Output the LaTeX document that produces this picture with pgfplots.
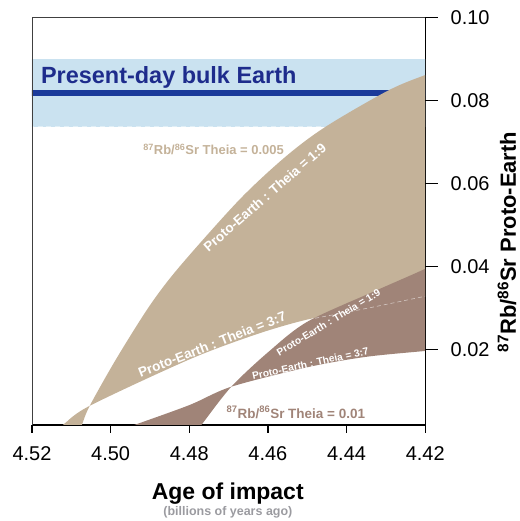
\documentclass[border=0pt]{standalone}
\usepackage{pgfplots}
\pgfplotsset{compat=1.18}
\usepackage{fontspec}
\setmainfont{Liberation Sans}
\definecolor{tanc}{RGB}{196,178,153}
\definecolor{brownc}{RGB}{160,132,120}
\definecolor{bandc}{RGB}{202,226,240}
\definecolor{linec}{RGB}{26,58,154}
\definecolor{navy}{RGB}{30,44,140}
\definecolor{subgray}{RGB}{155,155,160}
\begin{document}
\begin{tikzpicture}
\begin{axis}[
  at={(0,0)}, anchor=south west,
  width=394pt, height=408.4pt, scale only axis,
  x dir=reverse,
  xmin=4.42, xmax=4.52, ymin=0.0018, ymax=0.10,
  axis x line*=bottom, axis y line*=right,
  xtick={4.42,4.44,4.46,4.48,4.50,4.52},
  xticklabels={4.42,4.44,4.46,4.48,4.50,4.52},
  ytick={0.02,0.04,0.06,0.08,0.10},
  yticklabels={0.02,0.04,0.06,0.08,0.10},
  tick align=outside,
  major tick length=8pt,
  axis line style={draw=black, line width=1.3pt},
  every tick/.append style={black, line width=1.3pt},
  ticklabel style={font=\fontsize{20}{22}\selectfont},
  xticklabel style={yshift=-10pt},
  yticklabel style={xshift=14pt},
  xlabel={Age of impact},
  xlabel style={at={(axis description cs:0.498,-0.1819)}, anchor=base, font=\fontsize{23}{25}\selectfont\bfseries},
  ylabel={\textsuperscript{87}Rb/\textsuperscript{86}Sr Proto-Earth},
  ylabel style={at={(axis description cs:1.208,0.4486)}, anchor=center, rotate=0, font=\fontsize{22}{24}\selectfont\bfseries},
]
% present-day bulk Earth band (0.0736 to 0.0900) and line at 0.0818
\addplot[fill=bandc, draw=none] coordinates {(4.415,0.0736) (4.525,0.0736) (4.525,0.0900) (4.415,0.0900)} -- cycle;
\addplot[white, opacity=0.45, line width=0.8pt, dash pattern=on 5pt off 4pt] coordinates {(4.42,0.0900) (4.52,0.0900)};
\addplot[white, opacity=0.45, line width=0.8pt, dash pattern=on 5pt off 4pt] coordinates {(4.4465,0.0736) (4.52,0.0736)};
\addplot[linec, line width=5.6pt] coordinates {(4.525,0.0818) (4.415,0.0818)};
% Theia Rb/Sr = 0.005 (tan): curve 1:9, then curve 3:7 reversed
\addplot[fill=tanc, draw=none, smooth, tension=0.5] coordinates {
 (4.5095,-0.0033) (4.5082,-0.0003) (4.5073,0.0018) (4.5053,0.0064) (4.4985,0.0178) (4.4900,0.0306)
 (4.4824,0.0400) (4.4672,0.0561) (4.4554,0.0665) (4.4452,0.0737) (4.4291,0.0825) (4.4180,0.0868) (4.4000,0.0931)
 (4.4000,0.0365) (4.4180,0.0331) (4.42,0.0328) (4.4342,0.0300) (4.4499,0.0272) (4.4630,0.0236)
 (4.4799,0.0176) (4.5053,0.0064) (4.5121,0.0018) (4.5150,-0.0004) (4.5195,-0.0034)} -- cycle;
% Theia Rb/Sr = 0.01 (brown): curve 1:9, then curve 3:7 reversed
\addplot[fill=brownc, draw=none, smooth, tension=0.5] coordinates {
 (4.4811,-0.0032) (4.4786,-0.0002) (4.4769,0.0018) (4.4693,0.0110) (4.4596,0.0196) (4.4497,0.0268)
 (4.4317,0.0345) (4.4180,0.0403) (4.4000,0.0490)
 (4.4000,0.0216) (4.4180,0.0198) (4.4350,0.0182) (4.4499,0.0157) (4.4693,0.0110) (4.4799,0.0066)
 (4.4939,0.0018) (4.4998,-0.0002) (4.5085,-0.0032)} -- cycle;
% continuation of the tan 3:7 curve
\addplot[white, opacity=0.55, line width=0.6pt, dash pattern=on 4pt off 3pt, smooth] coordinates {(4.4480,0.0275) (4.4342,0.0300) (4.42,0.0328)};
% labels
\node[anchor=base, text=navy, font=\fontsize{23.5}{25}\selectfont\bfseries] at (axis cs:4.4852,0.0841) {Present-day bulk Earth};
\node[text=tanc, font=\fontsize{13}{15}\selectfont\bfseries] at (axis cs:4.4738,0.0681) {\textsuperscript{87}Rb/\textsuperscript{86}Sr Theia = 0.005};
\node[text=brownc, font=\fontsize{13.5}{15}\selectfont\bfseries] at (axis cs:4.4529,0.0048) {\textsuperscript{87}Rb/\textsuperscript{86}Sr Theia = 0.01};
\node[text=white, rotate=41, font=\fontsize{13.5}{15}\selectfont\bfseries] at (axis cs:4.4608,0.0566) {Proto-Earth : Theia = 1:9};
\node[text=white, rotate=21.5, font=\fontsize{13.5}{15}\selectfont\bfseries] at (axis cs:4.4742,0.0212) {Proto-Earth : Theia = 3:7};
\node[text=white, rotate=31, font=\fontsize{10.2}{12}\selectfont\bfseries] at (axis cs:4.4446,0.0265) {Proto-Earth : Theia = 1:9};
\node[text=white, rotate=12.3, font=\fontsize{10.2}{12}\selectfont\bfseries] at (axis cs:4.4492,0.0166) {Proto-Earth : Theia = 3:7};
\end{axis}
\draw[black!75, line width=0.6pt] (current axis.south west) -- (current axis.north west) -- (current axis.north east);
% tick marks (axis box: 394pt x 408.4pt, lower-left corner at the origin)
\foreach \tx in {0,78.8,157.6,236.4,315.2,394}{
  \draw[black, line width=1.3pt] (\tx pt,0pt) -- (\tx pt,-8pt);
}
\foreach \ty in {75.69,158.87,242.05,325.23,408.4}{
  \draw[black, line width=1.3pt] (394pt,\ty pt) -- (407pt,\ty pt);
}
\node[anchor=base, text=subgray, font=\fontsize{12.5}{14}\selectfont\bfseries] at (196.3pt,-90.3pt) {(billions of years ago)};
\path (-32pt,-95.3pt) rectangle (488pt,425.7pt);
\end{tikzpicture}
\end{document}
